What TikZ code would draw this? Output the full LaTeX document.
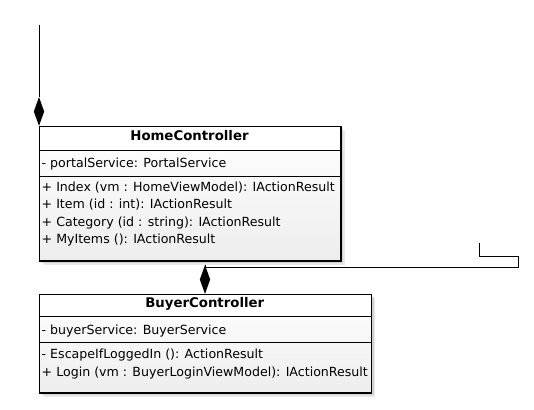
\documentclass[tikz,border=0pt]{standalone}
\usepackage{fontspec}
\setmainfont{DejaVu Sans}
\usetikzlibrary{shapes.geometric}
\begin{document}
\begin{tikzpicture}[x=1pt,y=-1pt,
  member/.style={anchor=base west, inner sep=0pt, font=\fontsize{12.6}{15}\selectfont},
  ctitle/.style={anchor=base, inner sep=0pt, font=\fontsize{13.3}{15}\selectfont\bfseries},
  comp/.style={diamond, fill=black, draw=none, inner sep=0pt, minimum width=10.5pt, minimum height=29pt},
  link/.style={draw=black, line width=0.9pt},
  frame/.style={draw=black, line width=1pt},
  classbox/.style={draw=black, line width=1pt, inner sep=0pt, top color=white, bottom color=gray!14, anchor=north west},
  shadowA/.style={fill=black!9},
  shadowB/.style={fill=black!18},
]
\useasboundingbox[fill=white] (0,0) rectangle (534,409);

% shadows
\fill[shadowA] (43.5,130.5) rectangle (344.5,264.5);
\fill[shadowB] (42,129) rectangle (343,263);
\fill[shadowA] (43.5,298.5) rectangle (375,396.5);
\fill[shadowB] (42,297) rectangle (373.5,395);

% HomeController
\node[classbox, minimum width=301pt, minimum height=134pt] (hc) at (39,126) {};
\fill[white] (39.5,126.5) rectangle (339.5,150);
\draw[frame] (hc.west |- 0,150) -- (hc.east |- 0,150);
\draw[frame] (hc.west |- 0,176.5) -- (hc.east |- 0,176.5);
\draw[frame] (hc.north west) rectangle (hc.south east);
\node[ctitle] (hct) at (189.5,140.5) {HomeController};
\node[member] (hca) at (41.5,167) {- portalService: PortalService};
\node[member] (hm1) at (41.5,191) {+ Index (vm : HomeViewModel): IActionResult};
\node[member] (hm2) at (41.5,208.5) {+ Item (id : int): IActionResult};
\node[member] (hm3) at (41.5,226) {+ Category (id : string): IActionResult};
\node[member] (hm4) at (41.5,243.5) {+ MyItems (): IActionResult};

% BuyerController
\node[classbox, minimum width=331.5pt, minimum height=98pt] (bc) at (39,294) {};
\fill[white] (39.5,294.5) rectangle (370,316);
\draw[frame] (bc.west |- 0,316) -- (bc.east |- 0,316);
\draw[frame] (bc.west |- 0,342) -- (bc.east |- 0,342);
\draw[frame] (bc.north west) rectangle (bc.south east);
\node[ctitle] (bct) at (204.75,307.5) {BuyerController};
\node[member] (bca) at (41.5,334.5) {- buyerService: BuyerService};
\node[member] (bm1) at (41.5,358.5) {- EscapeIfLoggedIn (): ActionResult};
\node[member] (bm2) at (41.5,376) {+ Login (vm : BuyerLoginViewModel): IActionResult};

% compositions
\node[comp] (d1) at (39,111.5) {};
\node[comp] (d2) at (205,279.5) {};
\coordinate (topend) at (39,25);
\coordinate (rend) at (479,243);
\draw[link] (topend) -- (d1.north);
\draw[link] (d2.north) |- (518,267) |- (479,256.5) -- (rend);
\end{tikzpicture}
\end{document}
